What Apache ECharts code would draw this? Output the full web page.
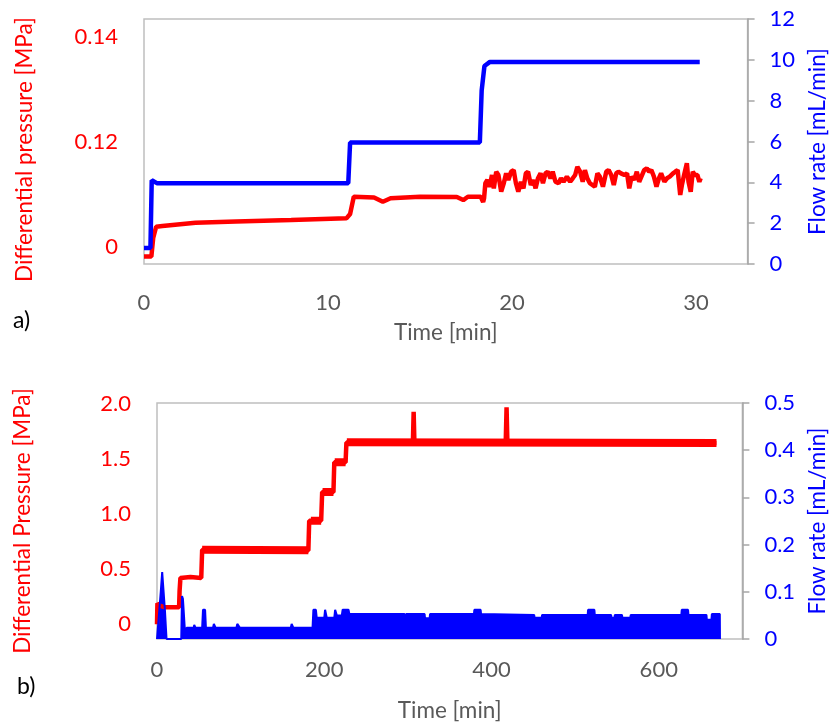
<!DOCTYPE html>
<html>
<head>
<meta charset="utf-8">
<script src="https://cdn.jsdelivr.net/npm/echarts@6/dist/echarts.min.js"></script>
<style>
  html, body { margin: 0; padding: 0; background: #fff; }
  #chart { width: 837px; height: 723px; }
</style>
</head>
<body>
<div id="chart"></div>
<script>
// panel a) time [min] vs pressure (left scale) and flow rate [mL/min]
const aPressure = [
  [0, -0.0064], [0.4, -0.0064], [0.5, 0.006], [0.66, 0.0135], [1.0, 0.014], [2.8, 0.0162], [5, 0.017],
  [8, 0.018], [11.0, 0.0191], [11.2, 0.022], [11.4, 0.0335], [12.5, 0.033], [12.98, 0.0302], [13.4, 0.0325],
  [15, 0.0335], [17.0, 0.0333], [17.35, 0.0313], [17.6, 0.0335], [18.3, 0.0335], [18.43, 0.030], [18.48, 0.0325],
  [18.55, 0.0425], [18.66, 0.0447], [18.78, 0.0402], [18.91, 0.0480], [19.01, 0.0391], [19.14, 0.0502],
  [19.26, 0.0480], [19.41, 0.0369], [19.55, 0.0425], [19.68, 0.0491], [19.80, 0.0447], [19.95, 0.0502],
  [20.09, 0.0513], [20.21, 0.0425], [20.34, 0.0369], [20.48, 0.0435], [20.62, 0.0391], [20.75, 0.0491],
  [20.87, 0.0502], [21.02, 0.0413], [21.16, 0.0447], [21.28, 0.0391], [21.41, 0.0458], [21.55, 0.0491],
  [21.68, 0.0425], [21.82, 0.0491], [21.94, 0.0502], [22.09, 0.0458], [22.21, 0.0502], [22.36, 0.0435],
  [22.53, 0.0425], [22.66, 0.0458], [22.80, 0.0435], [22.98, 0.0469], [23.16, 0.0435], [23.30, 0.0458],
  [23.43, 0.0480], [23.55, 0.0535], [23.70, 0.0502], [23.84, 0.0435], [23.96, 0.0513], [24.09, 0.0458],
  [24.23, 0.0425], [24.32, 0.0435], [24.50, 0.0402], [24.64, 0.0491], [24.77, 0.0469], [24.94, 0.0402],
  [25.12, 0.0502], [25.25, 0.0513], [25.39, 0.0480], [25.53, 0.0413], [25.66, 0.0491], [25.78, 0.0502],
  [25.92, 0.0491], [26.11, 0.0480], [26.25, 0.0491], [26.37, 0.0391], [26.50, 0.0469], [26.64, 0.0447],
  [26.78, 0.0502], [26.91, 0.0435], [27.03, 0.0469], [27.18, 0.0513], [27.32, 0.0525], [27.45, 0.0502],
  [27.57, 0.0513], [27.71, 0.0469], [27.85, 0.0402], [27.98, 0.0458], [28.10, 0.0491], [28.28, 0.0435],
  [28.42, 0.0458], [28.57, 0.0469], [28.75, 0.0491], [28.87, 0.0502], [29.00, 0.0513], [29.14, 0.0347],
  [29.23, 0.0413], [29.35, 0.0480], [29.50, 0.0558], [29.59, 0.0435], [29.71, 0.0369], [29.82, 0.0502],
  [29.94, 0.0480], [30.07, 0.0480], [30.18, 0.0435], [30.25, 0.0458]
]
const aFlow = [
  [0, 0.78], [0.35, 0.78], [0.42, 4.1], [0.7, 3.96], [11.1, 3.96], [11.2, 5.95], [18.25, 5.95],
  [18.35, 8.5], [18.5, 9.7], [18.8, 9.9], [30.2, 9.9]
]
// left tick labels of panel a as printed (evenly spaced)
const aPressureTicks = [0, 0.07, 0.14]
const aPressureTickLabels = ['0', '0.12', '0.14']
const aTimeTicks = [0, 10, 20, 30]

// panel b) time [min] vs differential pressure [MPa] and flow rate [mL/min]
const bPressure = [
  [0, 0], [0.5, 0.19], [3, 0.17], [9, 0.155], [26.4, 0.155], [27, 0.3], [28, 0.42], [40, 0.43],
  [52.9, 0.42], [54, 0.676], [120, 0.68], [181, 0.67], [182, 0.94], [196.3, 0.94], [197.5, 1.2],
  [211, 1.2], [212, 1.47], [225.5, 1.47], [226.5, 1.65], [306, 1.655], [306.9, 1.93], [307.8, 1.65],
  [417, 1.65], [418, 1.97], [419, 1.645], [669, 1.645]
]
// plateaus where the recorded pressure is noisy (drawn as a wider band)
const bPressureNoisy = [
  [54, 0.676], [181, 0.672], [182, '-'], [184, 0.94], [196.3, 0.94], [197, '-'], [198, 1.2], [211, 1.2],
  [211.5, '-'], [212.5, 1.47], [225.5, 1.47], [226, '-'], [227, 1.652], [669, 1.645]
]
const bFlow = [
  [0, 0], [1.7, 0], [4.5, 0.1], [6.2, 0.142], [7.2, 0.142], [9.5, 0.06], [11.4, 0], [29, 0],
  [29.9, 0.091], [31, 0.085], [34, 0], [35, 0], [35.5, 0.024], [44, 0.024], [44.5, 0.03], [46, 0.024],
  [54, 0.024], [55, 0.062], [57.5, 0.062], [58.5, 0.024], [67, 0.024], [68, 0.032], [70, 0.024],
  [95, 0.024], [96, 0.032], [99, 0.024], [160, 0.024], [161, 0.032], [163, 0.024], [186, 0.024],
  [187, 0.062], [190, 0.062], [191, 0.045], [200, 0.045], [201, 0.062], [203, 0.045], [212, 0.045],
  [213, 0.062], [215, 0.05], [221, 0.05], [222, 0.062], [229, 0.062], [230, 0.053], [296, 0.053],
  [297, 0.045], [298, 0.053], [320, 0.053], [320.5, 0.044], [326, 0.044], [326.5, 0.053], [379, 0.053],
  [379.5, 0.062], [387, 0.062], [387.5, 0.053], [451, 0.051], [451.5, 0.045], [460, 0.045],
  [460.5, 0.051], [515, 0.051], [515.5, 0.062], [523, 0.062], [523.5, 0.051], [543, 0.051],
  [543.5, 0.045], [547, 0.045], [547.5, 0.051], [556, 0.051], [556.5, 0.045], [566, 0.045],
  [566.5, 0.051], [627, 0.051], [627.5, 0.062], [635, 0.062], [635.5, 0.051], [657, 0.051],
  [657.5, 0.041], [663, 0.041], [663.5, 0.053], [673, 0.053], [673.2, 0]
]
const bPressureTicks = [0, 0.5, 1.0, 1.5, 2.0]
const bTimeTicks = [0, 200, 400, 600]

const RED = '#ff0000'
const BLUE = '#0000ff'
const GREY = '#595959'
const FONT = 'Lato'
const TICK_SIZE = 22
const NAME_SIZE = 22.5

const chart = echarts.init(document.getElementById('chart'), null, { renderer: 'canvas' })

function leftAxis (grid, min, max, ticks, fmt, name, gap, pad) {
  return {
    type: 'value', gridIndex: grid, position: 'left', min: min, max: max,
    name: name, nameLocation: 'middle', nameGap: gap,
    nameTextStyle: { color: RED, fontSize: NAME_SIZE, fontFamily: FONT, padding: pad },
    axisLine: { show: false }, axisTick: { show: false }, splitLine: { show: false },
    axisLabel: { customValues: ticks, color: RED, fontSize: TICK_SIZE, fontFamily: FONT, margin: 26, formatter: fmt }
  }
}
function rightAxis (grid, max, interval, name, gap) {
  return {
    type: 'value', gridIndex: grid, position: 'right', min: 0, max: max, interval: interval,
    name: name, nameLocation: 'middle', nameGap: gap,
    nameTextStyle: { color: BLUE, fontSize: NAME_SIZE, fontFamily: FONT },
    axisLine: { show: true, lineStyle: { color: '#a6a6a6', width: 1.5 } },
    axisTick: { show: true, length: 7, lineStyle: { color: '#a6a6a6', width: 1.5 } },
    splitLine: { show: false },
    axisLabel: { color: BLUE, fontSize: TICK_SIZE, fontFamily: FONT, margin: 22 }
  }
}
function timeAxis (grid, max, ticks, margin, gap) {
  return {
    type: 'value', gridIndex: grid, min: 0, max: max,
    name: 'Time [min]', nameLocation: 'middle', nameGap: gap,
    nameTextStyle: { color: GREY, fontSize: NAME_SIZE, fontFamily: FONT },
    axisLine: { show: false }, axisTick: { show: false }, splitLine: { show: false },
    axisLabel: { customValues: ticks, color: GREY, fontSize: TICK_SIZE, fontFamily: FONT, margin: margin }
  }
}

const option = {
  animation: false,
  backgroundColor: '#fff',
  grid: [
    { left: 144, top: 19, right: 80, height: 245, show: true, borderColor: '#bfbfbf', borderWidth: 1.5 },
    { left: 157, top: 403, right: 89, height: 240, show: true, borderColor: '#bfbfbf', borderWidth: 1.5 }
  ],
  xAxis: [
    timeAxis(0, 32.8, aTimeTicks, 28, 57),
    timeAxis(1, 700, bTimeTicks, 20, 60)
  ],
  yAxis: [
    leftAxis(0, -0.01133, 0.152, aPressureTicks,
      v => aPressureTickLabels[aPressureTicks.indexOf(Math.round(v * 100) / 100)] || '',
      'Differential pressure [MPa]', 108, [0, 16, 0, 0]),
    rightAxis(0, 12, 2, 'Flow rate [mL/min]', 58),
    leftAxis(1, -0.134, 2.009, bPressureTicks,
      v => (v === 0 ? '0' : v.toFixed(1)),
      'Differential Pressure [MPa]', 123, 0),
    rightAxis(1, 0.5, 0.1, 'Flow rate [mL/min]', 63)
  ],
  graphic: [
    { type: 'text', left: 13, top: 309, style: { text: 'a)', fontSize: 23, fontFamily: FONT, fill: '#000' } },
    { type: 'text', left: 17, top: 675, style: { text: 'b)', fontSize: 23, fontFamily: FONT, fill: '#000' } }
  ],
  series: [
    {
      name: 'pressure a', type: 'line', xAxisIndex: 0, yAxisIndex: 0, data: aPressure,
      showSymbol: false, lineStyle: { color: RED, width: 4.5 }, itemStyle: { color: RED }
    },
    {
      name: 'flow a', type: 'line', xAxisIndex: 0, yAxisIndex: 1, data: aFlow,
      showSymbol: false, lineStyle: { color: BLUE, width: 4.5 }, itemStyle: { color: BLUE }
    },
    {
      name: 'pressure b', type: 'line', xAxisIndex: 1, yAxisIndex: 2, data: bPressure,
      showSymbol: false, lineStyle: { color: RED, width: 4.5 }, itemStyle: { color: RED }
    },
    {
      name: 'pressure b noisy', type: 'line', xAxisIndex: 1, yAxisIndex: 2, data: bPressureNoisy,
      showSymbol: false, lineStyle: { color: RED, width: 8 }, itemStyle: { color: RED }
    },
    {
      name: 'flow b', type: 'line', xAxisIndex: 1, yAxisIndex: 3, data: bFlow,
      showSymbol: false, lineStyle: { color: BLUE, width: 2 }, itemStyle: { color: BLUE },
      areaStyle: { color: BLUE, opacity: 1, origin: 'start' }
    }
  ]
}

chart.setOption(option)
</script>
</body>
</html>
